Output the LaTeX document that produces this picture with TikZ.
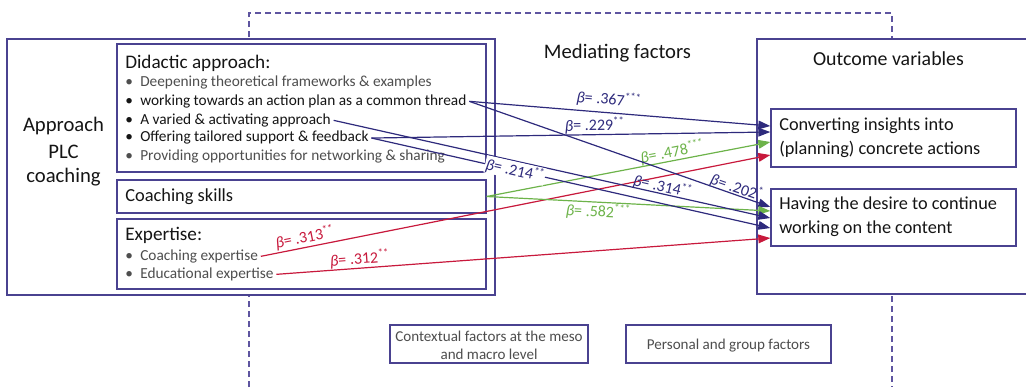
\documentclass[tikz,border=0pt]{standalone}
\usepackage{fontspec}
\setmainfont{Carlito}
\usetikzlibrary{arrows.meta,fit}

\definecolor{frame}{HTML}{4A4290}
\definecolor{dashc}{HTML}{5E55A0}
\definecolor{navy}{HTML}{2E2A7C}
\definecolor{grn}{HTML}{6DB34A}
\definecolor{rd}{HTML}{C8193C}
\definecolor{ink}{HTML}{151515}
\definecolor{soft}{HTML}{4E4E4E}

\newcommand\fsz[1]{\fontsize{#1}{#1}\selectfont}
\newcommand\bul{\makebox[6pt]{\textbullet}\hspace{5.25pt}}
\newcommand\coef[2]{\textit{β}= #1\textsuperscript{#2}}

\begin{document}
\begin{tikzpicture}[x=0.75pt,y=-0.75pt,
  panel/.style={draw=frame, line width=1.2pt, fill=white, inner sep=0pt},
  subpanel/.style={draw=frame, line width=1pt, fill=white, inner sep=0pt},
  heading/.style={inner sep=0pt, anchor=base, text=ink},
  lead/.style={inner sep=0pt, anchor=base west, text=ink},
  item/.style={inner sep=0pt, anchor=base west, font=\fsz{11.5},
               text height=8pt, text depth=2.5pt},
  note/.style={inner sep=0pt, font=\fsz{11.3}, align=center, text=soft},
  link/.style={line width=0.9pt, -{Triangle[length=9pt,width=6.5pt]}},
  coefl/.style={font=\fsz{12}, sloped, inner sep=0.5pt},
]
\useasboundingbox (0,0) rectangle (1026,387);
\clip (0,0) rectangle (1026,387);

% mediating-factors frame (open at the bottom)
\draw[dashc, line width=1pt, dash pattern=on 4.5pt off 3pt]
  (249,387) -- (249,13) -- (892,13) -- (892,387);

% approach panel
\node[panel, fit={(7,39)(495,295)}] (approach) {};
\node[subpanel, fit={(117,44)(486,172)}] (didactic) {};
\node[subpanel, fit={(117,180)(486,213)}] (skills) {};
\node[subpanel, fit={(117,219)(486,289)}] (expertise) {};

\node[heading, font=\fsz{15.5}] (app1) at (63.5,131.7) {Approach};
\node[heading, font=\fsz{15.5}] (app2) at (63.5,158) {PLC};
\node[heading, font=\fsz{15.5}] (app3) at (63.5,182.5) {coaching};

\node[lead, font=\fsz{14.4}] (didhead) at (125,68) {Didactic approach:};
\node[item, text=soft] (deep) at (125,86.7) {\bul Deepening theoretical frameworks \& examples};
\node[item, text=ink] (work) at (125,105) {\bul working towards an action plan as a common thread};
\node[item, text=ink] (varied) at (125,124) {\bul A varied \& activating approach};
\node[item, text=ink] (offer) at (125,141.7) {\bul Offering tailored support \& feedback};
\node[item, text=soft] (network) at (125,160) {\bul Providing opportunities for networking \& sharing};

\node[lead, font=\fsz{13.8}] (skillhead) at (125,201.7) {Coaching skills};

\node[lead, font=\fsz{14.4}] (exphead) at (125,240.7) {Expertise:};
\node[item, text=soft] (cexp) at (125,260) {\bul Coaching expertise};
\node[item, text=soft] (eexp) at (125,278) {\bul Educational expertise};

% mediating factors
\node[heading, font=\fsz{15.5}] (medhead) at (617.5,58.5) {Mediating factors};
\node[subpanel, fit={(390,325)(588,363)}, line width=0.9pt] (context) {};
\node[note] (contexttext) at (489,345)
  {Contextual factors at the meso\\[2pt] and macro level};
\node[subpanel, fit={(626,325)(831,363)}, line width=0.9pt] (personal) {};
\node[note] (personaltext) at (728.5,346) {Personal and group factors};

% outcome panel
\node[panel, fit={(757,39)(1040,294)}] (outcome) {};
\node[heading, font=\fsz{14.9}] (outhead) at (888.5,65) {Outcome variables};
\node[subpanel, fit={(771,109)(1016,167)}] (conv) {};
\node[subpanel, fit={(771,189)(1016,246)}] (having) {};
\node[lead, font=\fsz{13.7}] (conv1) at (779,130) {Converting insights into};
\node[lead, font=\fsz{13.7}] (conv2) at (779,154) {(planning) concrete actions};
\node[lead, font=\fsz{13.7}] (have1) at (779,209) {Having the desire to continue};
\node[lead, font=\fsz{13.7}] (have2) at (779,233) {working on the content};

% paths to converting insights into actions
\draw[link, navy] ([xshift=2pt]work.east) --
  node[coefl, above=3pt, pos=.46] {\coef{.367}{***}} ([yshift=9pt]conv.west);
\draw[link, navy] ([xshift=2pt]offer.east) --
  node[coefl, above=0pt, pos=.56] {\coef{.229}{**}} ([yshift=4.5pt]conv.west);
\draw[link, grn] (skills.east) --
  node[coefl, above=-0.5pt, pos=.66] {\coef{.478}{***}} ([yshift=-3pt]conv.west);
\draw[link, rd] ([xshift=2pt]cexp.east) --
  node[coefl, above=0.5pt, pos=.09] {\coef{.313}{**}} ([yshift=-12.75pt]conv.west);

% paths to desire to continue
\draw[link, navy] ([xshift=2pt]work.east) --
  node[coefl, above=-1.5pt, pos=.88] {\coef{.202}{*}} ([yshift=7.9pt]having.west);
\draw[link, grn] (skills.east) --
  node[coefl, below=0pt, pos=.395] {\coef{.582}{***}} ([yshift=4.9pt]having.west);
\draw[link, navy] ([xshift=2pt]varied.east) --
  node[coefl, above=-1.5pt, pos=.75] {\coef{.314}{**}} ([yshift=-0.4pt]having.west);
\draw[link, navy] ([xshift=2pt]offer.east) --
  node[coefl, fill=white, pos=.36] {\coef{.214}{**}} ([yshift=-7.9pt]having.west);
\draw[link, rd] ([xshift=2pt]eexp.east) --
  node[coefl, above=0pt, pos=.17] {\coef{.312}{**}} ([yshift=-15.4pt]having.west);
\end{tikzpicture}
\end{document}
